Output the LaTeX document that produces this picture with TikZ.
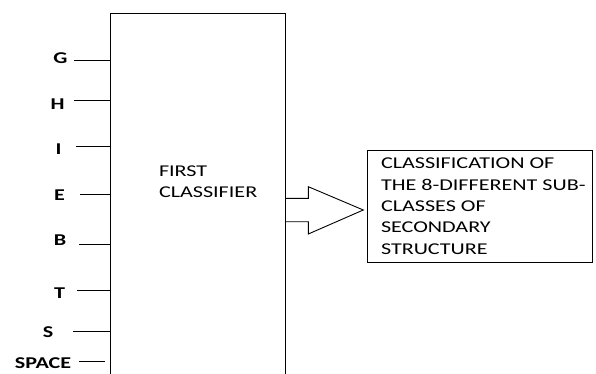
\documentclass[tikz,border=0pt]{standalone}
\usepackage{fontspec}
\setmainfont{Carlito}[FakeStretch=1.34]
\usepackage{tikz}

\begin{document}
\begin{tikzpicture}[x=1pt, y=-1pt, line width=0.9pt, every node/.style={inner sep=0pt, outer sep=0pt, font=\fontsize{16.5}{21.3}\selectfont}, lbl/.style={anchor=base, font=\fontsize{16.5}{21.3}\selectfont\bfseries}]
	\useasboundingbox (0,0) rectangle (596,374);
	\clip (0,0) rectangle (596,374);
	\node(clf)[draw, anchor=north west, minimum width=175, minimum height=380] at (110.7,13.3){};
	\node(clfname)[anchor=west, align=left] at (159,181.7){FIRST\\CLASSIFIER};
	\foreach \nm/\lx/\by/\sx/\ly in {G/60.5/63.3/74/60, H/57.5/109.3/74/100.7, I/58.5/154/76/146.7, E/59.5/200/80/194.3, B/60/245/79/244.3, T/59.5/298/77/290.3, S/48/337/73/331.7}{
		\node(lbl\nm)[lbl] at (\lx,\by){\nm};
		\coordinate(in\nm) at (\sx,\ly);
		\draw (in\nm) -- (in\nm -| clf.west);
	}
	\node(lblSP)[lbl] at (43,368){SPACE};
	\coordinate(inSP) at (78.7,361);
	\coordinate(endSP) at (105,361);
	\draw (inSP) -- (endSP);
	\node(cls)[draw, anchor=north west, minimum width=225, minimum height=112] at (367,150){};
	\node(clsname)[anchor=west, align=left] at (381,206.2){CLASSIFICATION OF\\THE 8-DIFFERENT SUB-\\CLASSES OF\\SECONDARY\\STRUCTURE};
	\coordinate(tip) at (363.3,210);
	\draw (clf.east |- 0,198.3) -- (308.3,198.3) -- (308.3,186.7) -- (tip) -- (308.3,234) -- (308.3,221.7) -- (clf.east |- 0,221.7);
\end{tikzpicture}
\end{document}
